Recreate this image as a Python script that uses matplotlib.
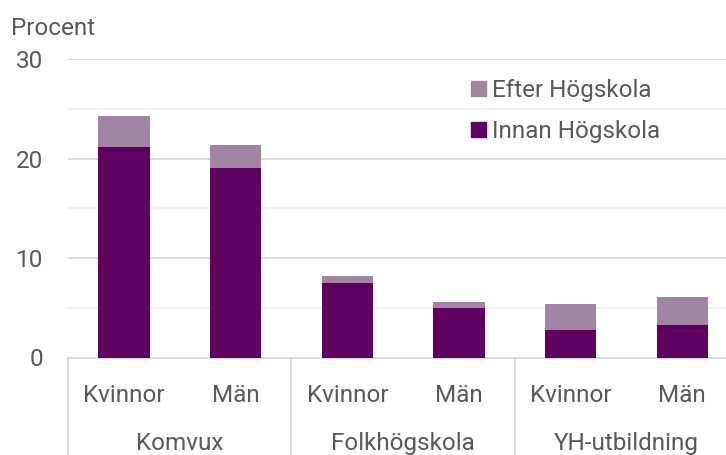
import numpy as np
import matplotlib.pyplot as plt
from matplotlib.patches import Patch

plt.rcParams['font.family'] = ['Roboto', 'DejaVu Sans']

groups = ['Komvux', 'Folkhögskola', 'YH-utbildning']
kon = ['Kvinnor', 'Män', 'Kvinnor', 'Män', 'Kvinnor', 'Män']
innan = [21.2, 19.0, 7.5, 5.0, 2.8, 3.3]
efter = [3.1, 2.4, 0.7, 0.6, 2.6, 2.8]

c_innan = '#600060'
c_efter = '#a285a2'
txt = '#595959'
linec = '#d9d9d9'
fs = 17.5

fig = plt.figure(figsize=(7.26, 4.55), dpi=100)
H = 455
y0, y30 = 357.5, 59
ax = fig.add_axes([68 / 726, 1 - y0 / H, 6 * 111.7 / 726, (y0 - y30) / H])

x = np.arange(len(kon))
ax.bar(x, innan, width=0.46, color=c_innan, zorder=3)
ax.bar(x, efter, width=0.46, bottom=innan, color=c_efter, zorder=3)

ax.set_xlim(-0.5, len(kon) - 0.5)
ax.set_ylim(0, 30)
ax.set_yticks([0, 10, 20, 30])
ax.set_yticks([5, 15, 25], minor=True)
ax.grid(axis='y', which='major', color=linec, lw=1.3, zorder=0)
ax.grid(axis='y', which='minor', color='#f0f0f0', lw=1.3, zorder=0)
ax.tick_params(axis='y', which='both', length=0, pad=18, labelsize=fs, labelcolor=txt)
ax.set_xticks([])
for s in ['top', 'right', 'left']:
    ax.spines[s].set_visible(False)
ax.spines['bottom'].set_color(linec)
ax.spines['bottom'].set_linewidth(1.3)

# category labels under the axis
tr = ax.get_xaxis_transform()
yk = (402 - y0) / (y0 - y30)
yg = (450 - y0) / (y0 - y30)
for i, k in enumerate(kon):
    ax.text(i, -yk, k, transform=tr, ha='center', va='baseline',
            fontsize=fs, color=txt)
for g, name in enumerate(groups):
    ax.text(2 * g + 0.5, -yg, name, transform=tr, ha='center', va='baseline',
            fontsize=fs, color=txt)
for xs in [-0.5, 1.5, 3.5]:
    ax.plot([xs, xs], [0, -0.35], transform=tr, color=linec, lw=1.3,
            clip_on=False)

fig.text(11 / 726, 1 - 35 / H, 'Procent', ha='left', va='baseline',
         fontsize=fs, color=txt)

handles = [Patch(color=c_efter), Patch(color=c_innan)]
ax.legend(handles, ['Efter Högskola', 'Innan Högskola'], loc='upper left',
          bbox_to_anchor=(471 / 726, 1 - 79 / H), bbox_transform=fig.transFigure,
          frameon=False, fontsize=fs, labelcolor=txt, handlelength=0.6,
          handleheight=0.6, handletextpad=0.25, labelspacing=0.75,
          borderpad=0, borderaxespad=0)

fig.savefig('out.png', dpi=100)
